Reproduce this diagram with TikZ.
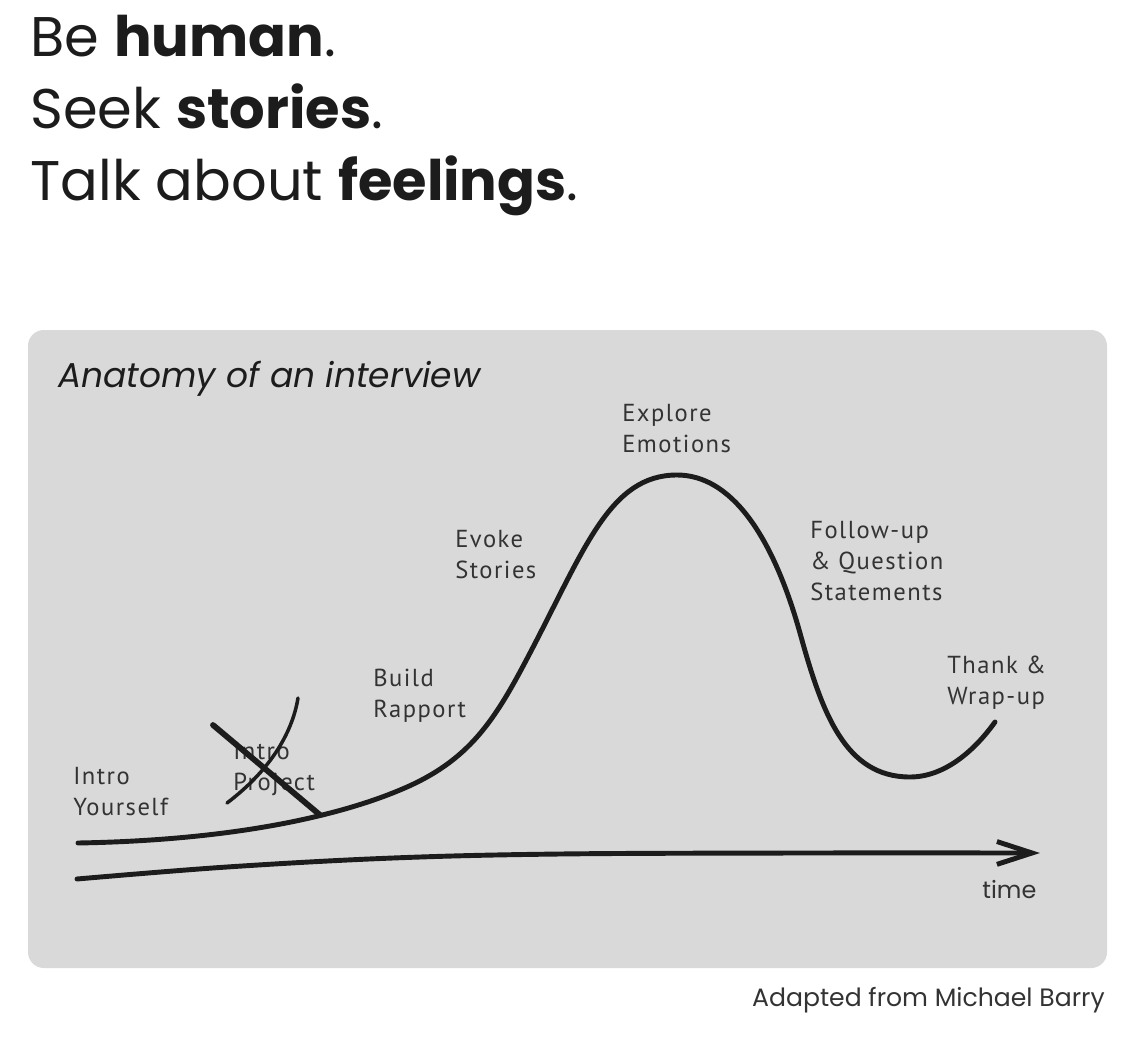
\documentclass[tikz,border=0pt]{standalone}
\usepackage{fontspec}
\setmainfont{Poppins}
\newfontfamily\dinfont{PT Sans}[LetterSpace=6]
\usepackage{tikz}
\usetikzlibrary{arrows.meta}
\definecolor{panelgray}{HTML}{D9D9D9}
\definecolor{inkblack}{HTML}{1C1C1C}
\definecolor{labelgray}{HTML}{333333}

\begin{document}
\begin{tikzpicture}[x=0.02cm, y=-0.02cm,
  stage/.style={anchor=base west, align=left, inner sep=0pt, text=labelgray,
    font=\dinfont\fontsize{14}{17.6}\selectfont},
  stroke/.style={line width=2.8pt, line cap=round, line join=round, draw=inkblack}]
\useasboundingbox (0,0) rectangle (1140,1048);
\node[anchor=base west, align=left, inner sep=0pt, text=inkblack,
  font=\fontsize{31.8}{40.8}\selectfont] (motto) at (30,200)
  {Be \textbf{human}.\\Seek \textbf{stories}.\\Talk about \textbf{feelings}.};
\fill[panelgray, rounded corners=9pt] (28,330) rectangle (1107,968);
\node[anchor=base west, inner sep=0pt, text=inkblack, font=\itshape\fontsize{19.6}{24}\selectfont]
  (heading) at (58,387) {Anatomy of an interview};
% stages
\node[stage] (yourself) at (73,815) {Intro\\Yourself};
\node[stage] (project) at (233,790) {Intro\\Project};
\node[stage] (rapport) at (373,717) {Build\\Rapport};
\node[stage] (stories) at (455,578) {Evoke\\Stories};
\node[stage] (emotions) at (622,452) {Explore\\Emotions};
\node[stage] (followup) at (810,600) {Follow-up\\\& Question\\Statements};
\node[stage] (thanks) at (947,704) {Thank \&\\Wrap-up};
% curve and time axis
\coordinate (start) at (78,843);
\coordinate (peak) at (677,475);
\coordinate (dip) at (910,777);
\coordinate (finish) at (995,722);
\draw[stroke] (start) .. controls (250,840) and (350,811) .. (400,790)
  .. controls (470,761) and (495,720) .. (530,653)
  .. controls (585,548) and (610,475) .. (peak)
  .. controls (730,475) and (772,533) .. (800,633)
  .. controls (822,713) and (845,777) .. (dip)
  .. controls (945,777) and (975,750) .. (finish);
\draw[stroke, -{Straight Barb[length=20pt, width=13pt]}] plot[smooth, tension=0.6]
  coordinates {(77,879) (227,867) (393,858) (560,854) (800,853) (1040,853)};
\node[anchor=base west, inner sep=0pt, text=labelgray, font=\fontsize{13.6}{16}\selectfont]
  (time) at (982,898) {time};
% crossed out
\draw[stroke, line width=3.3pt] (213,725) -- (320,815);
\draw[stroke, line width=2pt] (227,803) .. controls (268,772) and (292,735) .. (298,698);
\node[anchor=base east, inner sep=0pt, text=labelgray, font=\fontsize{14.3}{16}\selectfont]
  (credit) at (1105,1006) {Adapted from Michael Barry};
\end{tikzpicture}
\end{document}
